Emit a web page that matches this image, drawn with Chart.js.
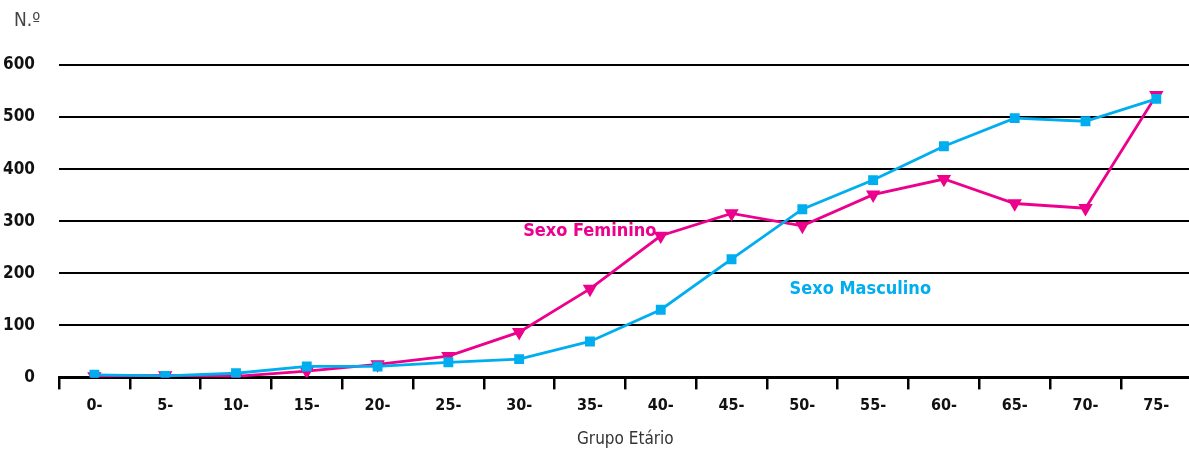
<!DOCTYPE html>
<html>
<head>
<meta charset="utf-8">
<script src="https://cdn.jsdelivr.net/npm/chart.js@4"></script>
<style>
  html, body { margin: 0; padding: 0; background: #fff; overflow: hidden; }
  #wrap { width: 1200px; height: 450px; position: relative; }
</style>
</head>
<body>
<div id="wrap"><canvas id="ageChart"></canvas></div>
<script>
const ageGroups = ['0-', '5-', '10-', '15-', '20-', '25-', '30-', '35-', '40-', '45-', '50-', '55-', '60-', '65-', '70-', '75-'];
const maleValues = [5, 3, 8, 21, 21, 29, 35, 69, 130, 227, 323, 379, 444, 498, 492, 535];
const femaleValues = [2, 4, 2, 12, 25, 41, 87, 170, 272, 315, 291, 351, 381, 334, 325, 542];
const yTicks = [0, 100, 200, 300, 400, 500, 600];

const condensed = '"Liberation Sans Narrow", "DejaVu Sans Condensed", sans-serif';

// series labels and the "N.º" caption
const annotations = {
    id: 'annotations',
    afterDraw(chart) {
        const { ctx, scales: { x, y } } = chart;
        ctx.save();
        ctx.textBaseline = 'middle';
        ctx.textAlign = 'left';
        ctx.font = 'bold 18px ' + condensed;
        ctx.fillStyle = '#EC008C';
        ctx.fillText('Sexo Feminino', x.getPixelForValue(6) + 4, y.getPixelForValue(280));
        ctx.fillStyle = '#00AEEF';
        ctx.fillText('Sexo Masculino', x.getPixelForValue(9.82), y.getPixelForValue(170));
        ctx.font = '19px ' + condensed;
        ctx.fillStyle = '#444';
        ctx.fillText('N.º', 14, 21);
        ctx.restore();
    }
};

const ctx = document.getElementById('ageChart').getContext('2d');
new Chart(ctx, {
    type: 'line',
    data: {
        labels: ageGroups,
        datasets: [{
            label: 'Sexo Masculino',
            data: maleValues,
            borderColor: '#00AEEF',
            backgroundColor: '#00AEEF',
            borderWidth: 2.8,
            pointStyle: 'rect',
            pointRadius: 5,
            tension: 0,
            fill: false
        }, {
            label: 'Sexo Feminino',
            data: femaleValues,
            borderColor: '#EC008C',
            backgroundColor: '#EC008C',
            borderWidth: 2.8,
            pointStyle: 'triangle',
            pointRotation: 180,
            pointRadius: 5.5,
            tension: 0,
            fill: false
        }]
    },
    options: {
        responsive: true,
        maintainAspectRatio: false,
        animation: false,
        layout: { padding: { top: 65, right: 0, left: 0, bottom: 0 } },
        plugins: {
            legend: { display: false },
            tooltip: { enabled: false }
        },
        scales: {
            x: {
                offset: true,
                grid: {
                    offset: true,
                    drawOnChartArea: false,
                    color: '#000',
                    lineWidth: 2.5,
                    tickLength: 12
                },
                border: { color: '#000', width: 3 },
                ticks: {
                    color: '#111',
                    padding: 7,
                    font: { family: condensed, weight: 'bold', size: 16 }
                },
                title: {
                    display: true,
                    text: 'Grupo Etário',
                    color: '#333',
                    padding: { top: 7, bottom: 0 },
                    font: { family: condensed, size: 17 }
                }
            },
            y: {
                min: 0,
                max: 600,
                afterBuildTicks(scale) {
                    scale.ticks = yTicks.map(v => ({ value: v }));
                },
                afterFit(scale) {
                    scale.width = 59;
                },
                grid: {
                    color: '#000',
                    lineWidth: 2,
                    drawTicks: false
                },
                border: { display: false },
                ticks: {
                    color: '#111',
                    padding: 24,
                    font: { family: condensed, weight: 'bold', size: 17 }
                }
            }
        }
    },
    plugins: [annotations]
});
</script>
</body>
</html>
